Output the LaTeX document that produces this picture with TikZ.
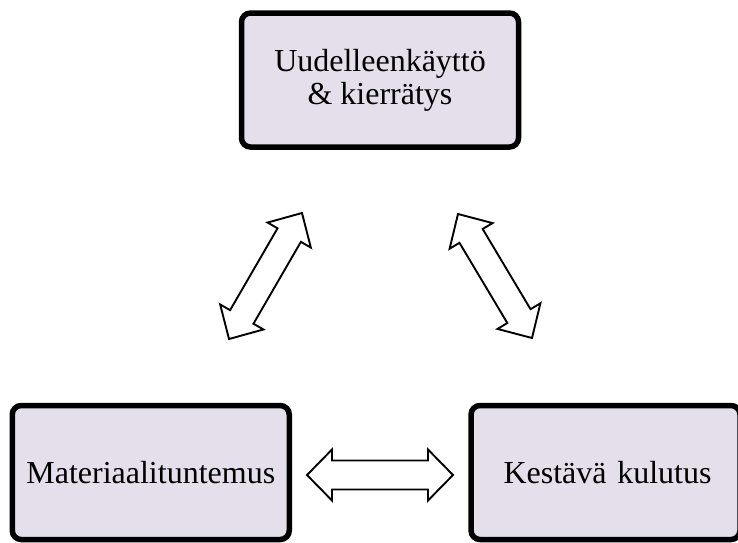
\documentclass[tikz,border=0pt]{standalone}
\usepackage{fontspec}
\setmainfont{Liberation Serif}
\usetikzlibrary{calc}
\definecolor{boxfill}{HTML}{E5DFEC}
\tikzset{
  mainbox/.style={draw=black, line width=5.5pt, fill=boxfill, rounded corners=9pt,
    minimum width=277pt, minimum height=134pt, align=center, inner sep=0pt,
    font=\fontsize{32}{33}\selectfont},
  blockarrow/.style={draw=black, line width=1.9pt, fill=white, line join=miter}
}
% double block arrow between two named coordinates: #1,#2 ends; head length, head half width, shaft half width
\newcommand{\dblarrow}[5]{%
  \draw[blockarrow] (#1)
    -- ($(#1)!#3!(#2)!#4!90:(#2)$)
    -- ($(#1)!#3!(#2)!#5!90:(#2)$)
    -- ($(#2)!#3!(#1)!#5!-90:(#1)$)
    -- ($(#2)!#3!(#1)!#4!-90:(#1)$)
    -- (#2)
    -- ($(#2)!#3!(#1)!#4!90:(#1)$)
    -- ($(#2)!#3!(#1)!#5!90:(#1)$)
    -- ($(#1)!#3!(#2)!#5!-90:(#2)$)
    -- ($(#1)!#3!(#2)!#4!-90:(#2)$)
    -- cycle;}
\begin{document}
\begin{tikzpicture}[x=1pt,y=-1pt]
  \useasboundingbox (0,0) rectangle (738,542);
  \clip (0,0) rectangle (738,542);
  \node[mainbox] (reuse) at (380,80) {Uudelleenkäyttö\\\& kierrätys};
  \node[mainbox] (mat) at (150.75,472.5) {Materiaalituntemus};
  \node[mainbox, minimum width=269pt, text width=269pt] (kest) at (605.5,472.5) {\hspace*{4pt}Kestävä kulutus};
  % arrow end points
  \coordinate (l1) at (229,339);
  \coordinate (l2) at (302,213);
  \coordinate (r1) at (458,214);
  \coordinate (r2) at (532,338);
  \coordinate (h1) at (307,475);
  \coordinate (h2) at (453,475);
  \dblarrow{l1}{l2}{25.5pt}{25pt}{13.5pt}
  \dblarrow{r1}{r2}{25.5pt}{25pt}{13.5pt}
  \dblarrow{h1}{h2}{25pt}{25.5pt}{14.5pt}
\end{tikzpicture}
\end{document}
